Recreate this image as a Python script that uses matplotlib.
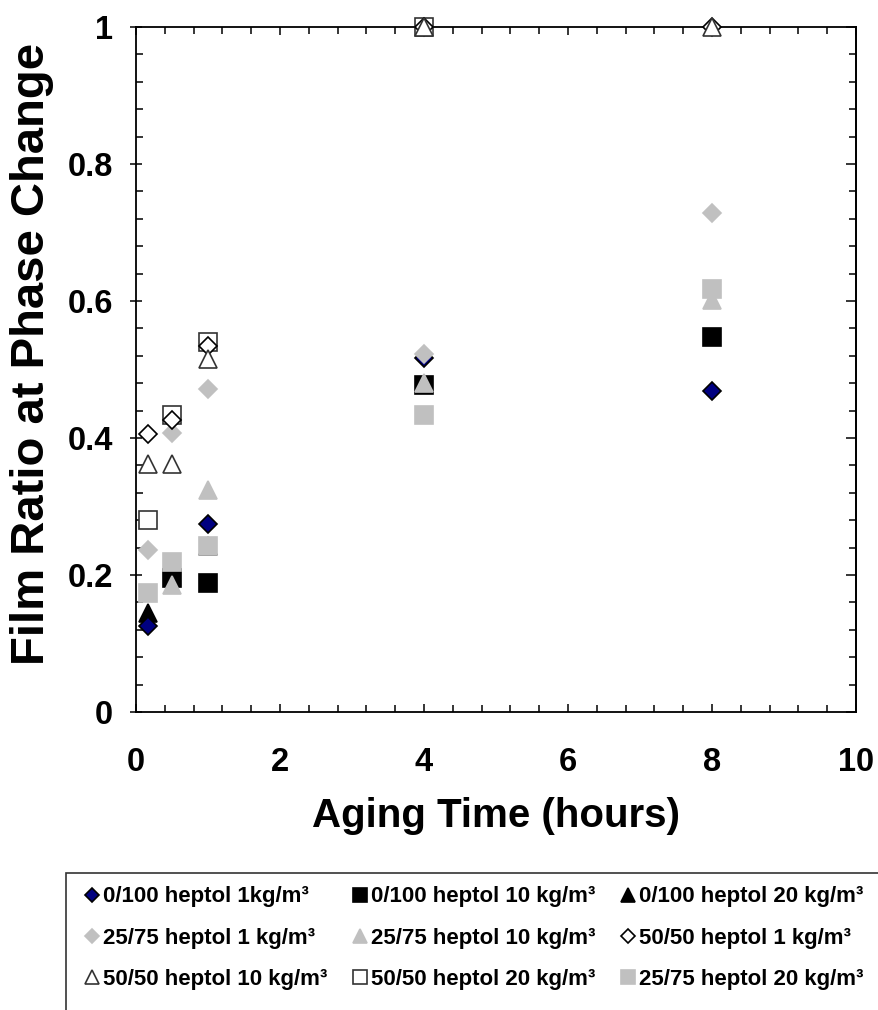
import numpy as np
import matplotlib
matplotlib.use("Agg")
import matplotlib.pyplot as plt
from matplotlib.patches import Rectangle
from matplotlib.ticker import FuncFormatter, MultipleLocator, NullFormatter

plt.rcParams["font.family"] = ["Liberation Sans", "DejaVu Sans"]
plt.rcParams["font.weight"] = "bold"

# aging times (hours) shared by all series; nan = point not visible
aging_time = [0.17, 0.5, 1, 4, 8]

y_0100_1 = [0.125, np.nan, 0.274, 0.517, 0.469]
y_0100_10 = [np.nan, 0.196, 0.189, 0.477, 0.547]
y_0100_20 = [0.145, np.nan, 0.243, np.nan, np.nan]
y_2575_1 = [0.236, 0.407, 0.472, 0.523, 0.729]
y_2575_10 = [np.nan, 0.185, 0.324, 0.481, 0.601]
y_5050_1 = [0.406, 0.427, 0.535, 1.0, 1.0]
y_5050_10 = [0.362, 0.362, 0.516, 1.0, 1.0]
y_5050_20 = [0.281, 0.433, 0.540, 1.0, np.nan]
y_2575_20 = [0.174, 0.219, 0.242, 0.433, 0.618]

labels = [
    "0/100 heptol 1kg/m³",
    "0/100 heptol 10 kg/m³",
    "0/100 heptol 20 kg/m³",
    "25/75 heptol 1 kg/m³",
    "25/75 heptol 10 kg/m³",
    "50/50 heptol 1 kg/m³",
    "50/50 heptol 10 kg/m³",
    "50/50 heptol 20 kg/m³",
    "25/75 heptol 20 kg/m³",
]
series = [y_0100_1, y_0100_10, y_0100_20, y_2575_1, y_2575_10,
          y_5050_1, y_5050_10, y_5050_20, y_2575_20]

GRAY = "#c0c0c0"
# marker, size, face, edge
styles = [
    ("D", 9.5, "#000080", "black"),
    ("s", 13, "black", "black"),
    ("^", 13, "black", "black"),
    ("D", 9.5, GRAY, GRAY),
    ("^", 13, GRAY, GRAY),
    ("D", 9.5, "white", "black"),
    ("^", 13, "white", "#333333"),
    ("s", 13, "white", "#333333"),
    ("s", 13, GRAY, GRAY),
]
zorders = [6, 3, 2, 7, 5, 8, 9, 7.5, 4]

fig = plt.figure(figsize=(8.79, 10.1), dpi=100)
ax = fig.add_axes([136 / 879, 1 - 712 / 1010, 720 / 879, 685 / 1010])

handles = []
for y, lab, (mk, ms, fc, ec), z in zip(series, labels, styles, zorders):
    h, = ax.plot(aging_time, y, linestyle="none", marker=mk, markersize=ms,
                 markerfacecolor=fc, markeredgecolor=ec, markeredgewidth=1.2,
                 label=lab, clip_on=False, zorder=z)
    handles.append(h)

ax.set_xlim(0, 10)
ax.set_ylim(0, 1)
ax.xaxis.set_major_locator(MultipleLocator(2))
ax.xaxis.set_minor_locator(MultipleLocator(0.4))
ax.yaxis.set_major_locator(MultipleLocator(0.2))
ax.yaxis.set_minor_locator(MultipleLocator(0.04))
ax.yaxis.set_major_formatter(
    FuncFormatter(lambda v, _: f"{v:.1f}".rstrip("0").rstrip("."))
)

for sp in ax.spines.values():
    sp.set_linewidth(1.3)
ax.tick_params(axis="x", which="major", direction="in", length=6, width=1.1,
               top=True, labelsize=23.5, pad=25)
ax.tick_params(axis="x", which="minor", direction="in", length=5, width=1.1, top=True)
ax.tick_params(axis="y", which="major", direction="inout", length=9, width=1.1,
               labelsize=23.5, pad=12)
ax.tick_params(axis="y", which="minor", direction="in", length=5, width=1.1)

# right-hand ticks point inward only
right = ax.secondary_yaxis("right")
right.yaxis.set_major_locator(MultipleLocator(0.2))
right.yaxis.set_minor_locator(MultipleLocator(0.04))
right.yaxis.set_major_formatter(NullFormatter())
right.spines["right"].set_linewidth(1.3)
right.tick_params(which="major", direction="in", length=7, width=1.1)
right.tick_params(which="minor", direction="in", length=5, width=1.1)

ax.set_xlabel("Aging Time (hours)", fontsize=29, fontweight="bold", labelpad=14)
ax.set_ylabel("Film Ratio at Phase Change", fontsize=34, fontweight="bold")
ax.yaxis.set_label_coords(-0.114, 0.523)

# legend reads row by row in the reference; matplotlib fills columns first
order = [0, 3, 6, 1, 4, 7, 2, 5, 8]
leg = fig.legend(
    [handles[i] for i in order], [labels[i] for i in order],
    ncol=3, loc="upper left", bbox_to_anchor=(71 / 879, 1 - 873 / 1010),
    borderaxespad=0, frameon=False,
    prop={"size": 16, "weight": "bold"}, markerscale=0.8,
    handlelength=0.7, handletextpad=0.15, columnspacing=1.1,
    labelspacing=0.92, borderpad=0.6,
)

# legend box runs off the right and bottom edges of the figure
fig.patches.append(Rectangle((66 / 879, -0.05), 1.0, 1 - 873 / 1010 + 0.05,
                             transform=fig.transFigure, fill=False,
                             edgecolor="#333333", linewidth=1.2))

fig.savefig("out.png", dpi=100)
